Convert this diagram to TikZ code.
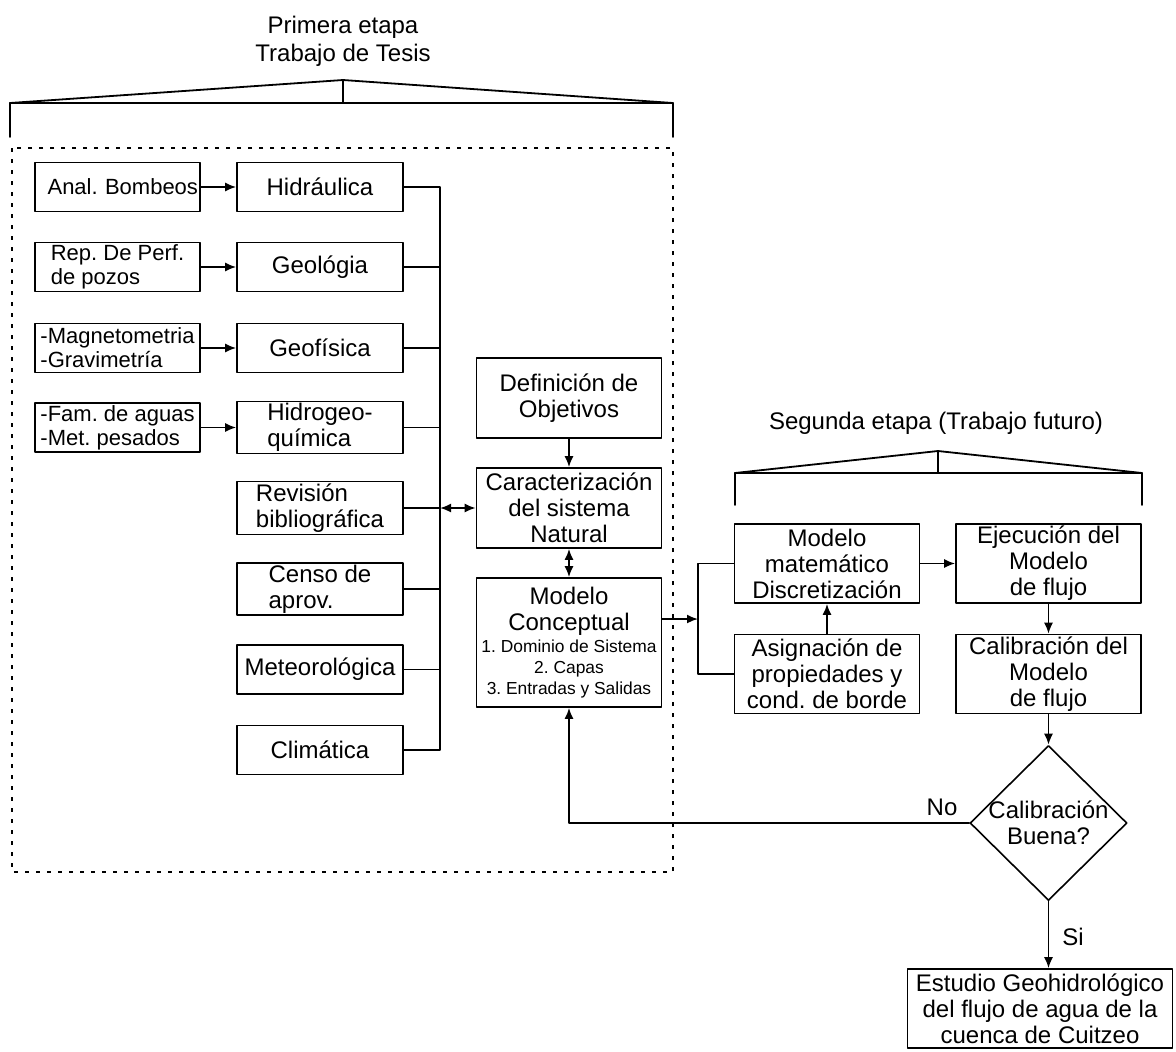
\documentclass[tikz,border=0pt]{standalone}
\usepackage{fontspec}
\setmainfont{Liberation Sans}
\usetikzlibrary{arrows.meta,shapes.geometric}

\begin{document}
\frenchspacing
\begin{tikzpicture}[line cap=round,line join=round,>={Latex[length=5.5pt,width=4.5pt]},x=0.5pt,y=-0.5pt,
  caja/.style={draw,line width=0.8pt,inner sep=1pt,align=center,font=\fontsize{12}{13}\selectfont},
  fuente/.style={caja,minimum width=82.5pt,minimum height=24.5pt,align=left,font=\fontsize{11}{12}\selectfont},
  tema/.style={caja,minimum width=83pt,minimum height=24.5pt},
  paso/.style={caja,minimum width=92.5pt,minimum height=39.5pt},
  flujo/.style={line width=0.9pt},
  titulo/.style={align=center,font=\fontsize{12}{14}\selectfont}]
  \newcommand{\chica}{\fontsize{8.7}{10}\selectfont}
  \useasboundingbox (0,0) rectangle (1176,1051);
  % primera etapa
  \node[titulo] (tit1) at (343,41) {Primera etapa\\Trabajo de Tesis};
  \draw[flujo] (10,137) -- (10,103) -- (673,103) -- (673,137);
  \draw[flujo] (10,103) -- (343,80) -- (673,103);
  \draw[flujo] (343,80) -- (343,103);
  \draw[line width=0.9pt,line cap=butt,dash pattern=on 2pt off 3.5pt] (12,148) rectangle (673,872);
  \node[fuente,text width=80.5pt,align=right] (anal) at (117.5,187) {Anal. Bombeos};
  \node[fuente] (rep) at (117.5,267) {Rep. De Perf.\\de pozos};
  \node[fuente] (mag) at (117.5,348) {-Magnetometria\\-Gravimetría};
  \node[fuente] (fam) at (117.5,427.5) {-Fam. de aguas\\-Met. pesados};
  \node[tema] (hid) at (320,187) {Hidráulica};
  \node[tema] (geol) at (320,267) {Geológia};
  \node[tema] (geof) at (320,348) {Geofísica};
  \node[tema,align=left] (hidq) at (320,427.5) {Hidrogeo-\\química};
  \node[tema,align=left] (rev) at (320,508) {Revisión\\bibliográfica};
  \node[tema,align=left] (censo) at (320,589) {Censo de\\aprov.};
  \node[tema] (met) at (320,669.5) {Meteorológica};
  \node[tema] (clim) at (320,750) {Climática};
  \draw[flujo,->] (anal) -- (hid);
  \draw[flujo,->] (rep) -- (geol);
  \draw[flujo,->] (mag) -- (geof);
  \draw[flujo,->] (fam) -- (hidq);
  \coordinate (bus) at (440,187);
  \foreach \n in {geol,geof,hidq,rev,censo,met}
  \draw[flujo] (\n.east) -- (\n.east -| bus);
  \draw[flujo] (hid.east) -- (bus) -- (clim.east -| bus) -- (clim.east);
  \node[paso,minimum height=40pt] (def) at (569,398) {Definición de\\Objetivos};
  \node[paso,minimum height=40pt] (car) at (569,508) {Caracterización\\del sistema\\Natural};
  \node[paso,minimum height=64.5pt] (modc) at (569,642.5) {Modelo\\Conceptual\\[-2pt]\chica 1. Dominio de Sistema\\[-2.5pt]\chica 2. Capas\\[-2.5pt]\chica 3. Entradas y Salidas};
  \draw[flujo,->] (def) -- (car);
  \draw[flujo,<->] (car) -- (modc);
  \draw[flujo,<->] (car.west -| bus) -- (car.west);
  % segunda etapa
  \node[titulo] (tit2) at (936,423) {Segunda etapa (Trabajo futuro)};
  \draw[flujo] (735,505) -- (735,473) -- (1142,473) -- (1142,505);
  \draw[flujo] (735,473) -- (938,451) -- (1142,473);
  \draw[flujo] (938,451) -- (938,473);
  \node[paso] (mmat) at (827,563.5) {Modelo\\matemático\\Discretización};
  \node[paso] (ejec) at (1048.5,563.5) {Ejecución del\\Modelo\\de flujo};
  \node[paso] (asig) at (827,674) {Asignación de\\propiedades y\\cond. de borde};
  \node[paso] (calib) at (1048.5,674) {Calibración del\\Modelo\\de flujo};
  \node[draw,diamond,line width=0.8pt,inner sep=-3pt,minimum width=78.5pt,minimum height=77.5pt,align=center,font=\fontsize{12}{13}\selectfont] (calb) at (1048.5,823) {Calibración\\Buena?};
  \node[caja,minimum width=132.5pt,minimum height=39.5pt] (estudio) at (1040,1008.5) {Estudio Geohidrológico\\del flujo de agua de la\\cuenca de Cuitzeo};
  \coordinate (brk) at (698,619);
  \draw[flujo,->] (brk -| modc.east) -- (brk);
  \draw[flujo] (mmat.west) -- (mmat.west -| brk) -- (asig.west -| brk) -- (asig.west);
  \draw[flujo,->] (mmat) -- (ejec);
  \draw[flujo,->] (asig) -- (mmat);
  \draw[flujo,->] (ejec) -- (calib);
  \draw[flujo,->] (calib) -- (calb);
  \coordinate (retorno) at (569,823);
  \draw[flujo,->] (calb.west) -- (retorno) -- (modc.south);
  \node[titulo] (no) at (942,807) {No};
  \draw[flujo,->] (calb.south) -- (calb.south |- estudio.north);
  \node[titulo] (si) at (1073,937) {Si};
\end{tikzpicture}
\end{document}
